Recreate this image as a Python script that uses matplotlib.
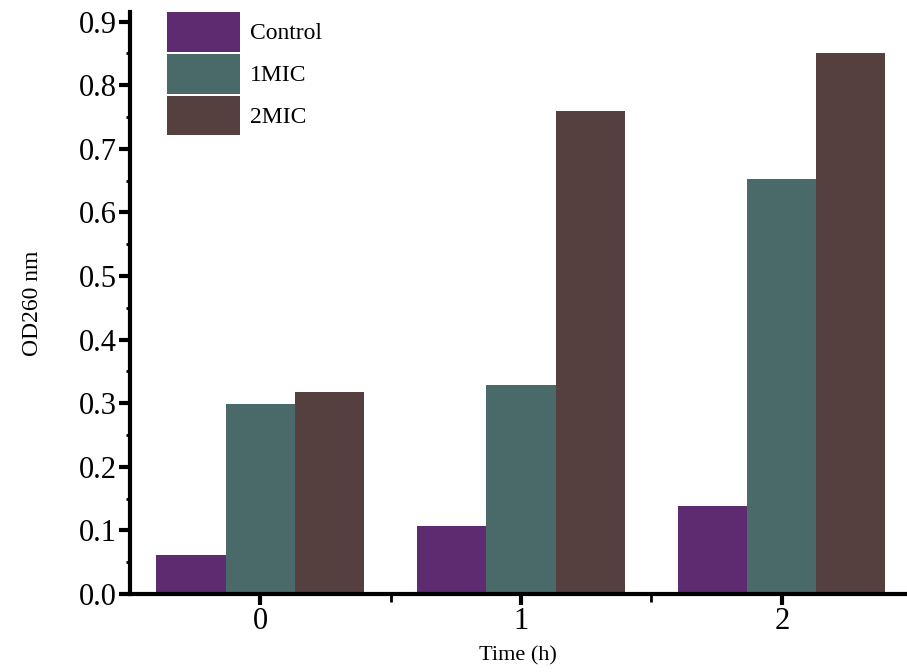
import matplotlib.pyplot as plt
import numpy as np
from matplotlib.ticker import MultipleLocator, FixedLocator

plt.rcParams['font.family'] = ['Liberation Serif', 'DejaVu Serif']

times = ['0', '1', '2']
series = ['Control', '1MIC', '2MIC']
control = [0.061, 0.107, 0.139]
mic1 = [0.299, 0.328, 0.652]
mic2 = [0.317, 0.760, 0.851]
colors = ['#5e2b70', '#4a6a69', '#553f3f']

fig = plt.figure(figsize=(9.07, 6.72), dpi=100)
ax = fig.add_axes([0.143, 0.116, 0.857, 0.866])

x = np.arange(len(times))
w = 0.265
for i, (vals, name) in enumerate(zip([control, mic1, mic2], series)):
    ax.bar(x + (i - 1) * w, vals, width=w, color=colors[i], label=name)

ax.set_xlim(-0.5, 2.48)
ax.set_ylim(0, 0.915)
ax.set_xticks(x)
ax.set_xticklabels(times)
ax.xaxis.set_minor_locator(FixedLocator([0.5, 1.5]))
ax.yaxis.set_major_locator(MultipleLocator(0.1))
ax.yaxis.set_minor_locator(MultipleLocator(0.05))
ax.yaxis.set_major_formatter(plt.FuncFormatter(lambda v, p: f'{v:.1f}'))

for s in ['top', 'right']:
    ax.spines[s].set_visible(False)
for s in ['left', 'bottom']:
    ax.spines[s].set_linewidth(3)

ax.tick_params(axis='both', which='major', direction='out', length=8, width=3, labelsize=22, pad=1)
ax.tick_params(axis='y', which='minor', direction='out', length=3, width=2)
ax.tick_params(axis='x', which='minor', direction='out', length=6, width=2)

ax.set_xlabel('Time (h)', fontsize=16, labelpad=8)
ax.set_ylabel('OD260 nm', fontsize=17, labelpad=26)

ax.legend(loc='upper left', bbox_to_anchor=(0.048, 1.0), frameon=False, fontsize=17,
          handlelength=3.1, handleheight=2.2, labelspacing=0.1, handletextpad=0.4,
          borderaxespad=0.0, borderpad=0.0)

fig.savefig('out.png', dpi=100)
